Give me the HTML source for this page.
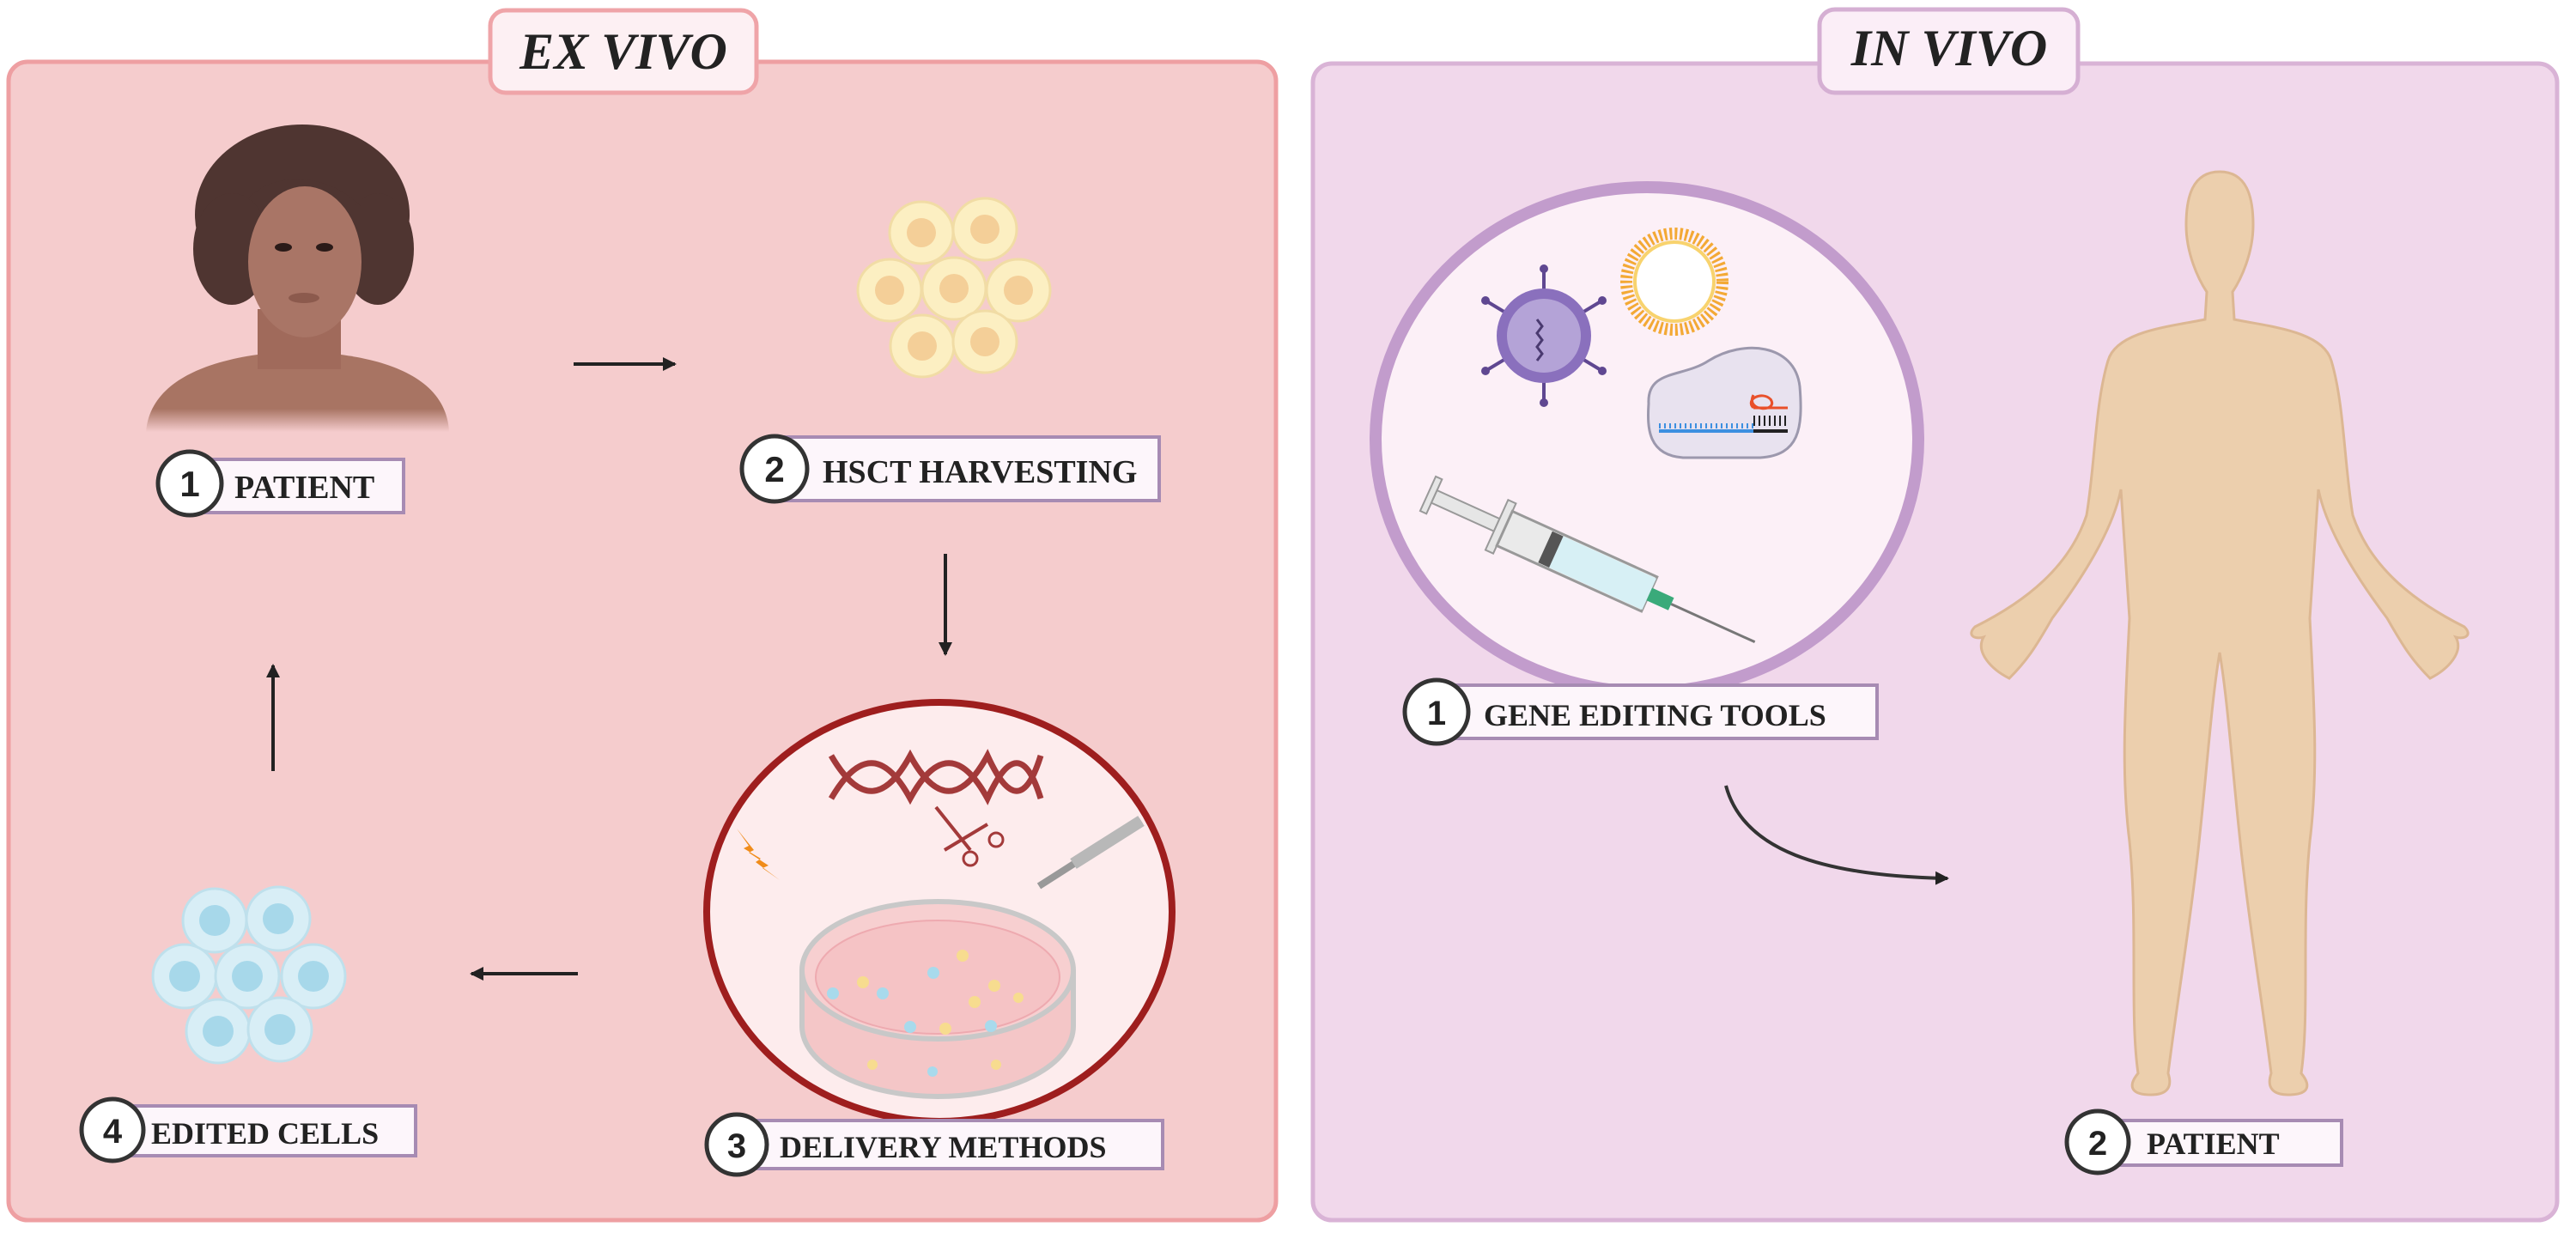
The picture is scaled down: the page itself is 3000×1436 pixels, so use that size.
<!DOCTYPE html>
<html><head><meta charset="utf-8"><style>
html,body{margin:0;padding:0;background:#fff;}
svg{display:block;}
.lab{font-family:"Liberation Serif",serif;font-weight:bold;fill:#222;}
.num{font-family:"Liberation Sans",sans-serif;font-weight:bold;fill:#222;}
</style></head><body>
<svg width="3000" height="1436" viewBox="0 0 3000 1436" xmlns="http://www.w3.org/2000/svg">
<defs>
<linearGradient id="sh" x1="0" y1="0" x2="0" y2="1">
<stop offset="0" stop-color="#a87463"/><stop offset="0.7" stop-color="#a87463"/><stop offset="1" stop-color="#a87463" stop-opacity="0"/>
</linearGradient>
<marker id="ah" markerWidth="4" markerHeight="4" refX="3.5" refY="2" orient="auto" markerUnits="strokeWidth">
<path d="M0,0 L4,2 L0,4 z" fill="#222"/></marker>
</defs>

<rect x="10" y="72" width="1476" height="1349" rx="22" fill="#f5cccd" stroke="#ee9fa2" stroke-width="5"/>
<rect x="571" y="12" width="310" height="96" rx="18" fill="#fdf0f3" stroke="#efa4a8" stroke-width="5"/>
<text x="726" y="80" text-anchor="middle" font-family="Liberation Serif,serif" font-style="italic" font-weight="bold" font-size="60" fill="#222">EX VIVO</text>

<path d="M170,503 C175,440 250,420 300,413 L397,413 C450,420 520,440 523,503 Z" fill="url(#sh)"/>
<rect x="300" y="360" width="97" height="70" fill="#a06a5b"/>
<ellipse cx="352" cy="250" rx="125" ry="105" fill="#4f3531"/>
<ellipse cx="270" cy="290" rx="45" ry="65" fill="#4f3531"/>
<ellipse cx="440" cy="290" rx="42" ry="65" fill="#4f3531"/>
<ellipse cx="355" cy="305" rx="66" ry="88" fill="#a97566"/>
<path d="M290,230 C320,200 380,200 420,240 L420,200 L290,200 Z" fill="#4f3531"/>
<ellipse cx="330" cy="288" rx="10" ry="5" fill="#2a1a18"/><ellipse cx="378" cy="288" rx="10" ry="5" fill="#2a1a18"/>
<ellipse cx="354" cy="347" rx="18" ry="6" fill="#8c5a4d"/>

<g fill="#fcefc2" stroke="#f1dca5" stroke-width="3">
<ellipse cx="1073" cy="271" rx="37" ry="36"/><ellipse cx="1147" cy="267" rx="37" ry="36"/>
<ellipse cx="1036" cy="338" rx="37" ry="36"/><ellipse cx="1111" cy="336" rx="37" ry="36"/><ellipse cx="1186" cy="338" rx="37" ry="36"/>
<ellipse cx="1074" cy="403" rx="37" ry="36"/><ellipse cx="1147" cy="398" rx="37" ry="36"/>
</g>
<g fill="#f4cf98">
<circle cx="1073" cy="271" r="17"/><circle cx="1147" cy="267" r="17"/><circle cx="1036" cy="338" r="17"/><circle cx="1111" cy="336" r="17"/><circle cx="1186" cy="338" r="17"/><circle cx="1074" cy="403" r="17"/><circle cx="1147" cy="398" r="17"/>
</g>

<g fill="#d8eef6" stroke="#bfe0ec" stroke-width="3">
<ellipse cx="250" cy="1072" rx="37" ry="37"/><ellipse cx="324" cy="1070" rx="37" ry="37"/>
<ellipse cx="215" cy="1137" rx="37" ry="37"/><ellipse cx="288" cy="1137" rx="37" ry="37"/><ellipse cx="365" cy="1137" rx="37" ry="37"/>
<ellipse cx="254" cy="1201" rx="37" ry="37"/><ellipse cx="326" cy="1199" rx="37" ry="37"/>
</g>
<g fill="#a7d8ea">
<circle cx="250" cy="1072" r="18"/><circle cx="324" cy="1070" r="18"/><circle cx="215" cy="1137" r="18"/><circle cx="288" cy="1137" r="18"/><circle cx="365" cy="1137" r="18"/><circle cx="254" cy="1201" r="18"/><circle cx="326" cy="1199" r="18"/>
</g>

<g stroke="#222" stroke-width="4" fill="none">
<line x1="668" y1="424" x2="786" y2="424" marker-end="url(#ah)"/>
<line x1="1101" y1="645" x2="1101" y2="762" marker-end="url(#ah)"/>
<line x1="673" y1="1134" x2="549" y2="1134" marker-end="url(#ah)"/>
<line x1="318" y1="898" x2="318" y2="775" marker-end="url(#ah)"/>
</g>

<ellipse cx="1094" cy="1062" rx="271" ry="244" fill="#fdeced" stroke="#9e1e1e" stroke-width="8"/>
<g stroke="#a33a3a" stroke-width="7" fill="none">
<path d="M968,880 C1000,935 1030,935 1060,880 C1090,935 1120,935 1150,880 C1175,935 1195,935 1212,880"/>
<path d="M968,930 C1000,875 1030,875 1060,930 C1090,875 1120,875 1150,930 C1175,875 1195,875 1212,930"/>
<path d="M1090,940 L1130,990 M1150,960 L1100,990" stroke-width="4"/>
<circle cx="1130" cy="1000" r="8" stroke-width="3"/><circle cx="1160" cy="978" r="8" stroke-width="3"/>
</g>
<path d="M858,965 L878,990 L872,993 L895,1008 L888,1011 L908,1025 L880,1004 L886,1000 L866,988 L872,985 Z" fill="#f08c1a"/>
<line x1="1210" y1="1032" x2="1329" y2="956" stroke="#999" stroke-width="8"/>
<line x1="1250" y1="1006" x2="1329" y2="956" stroke="#b8b8b8" stroke-width="14"/>
<ellipse cx="1092" cy="1195" rx="158" ry="82" fill="#f4c6c7" stroke="#c8c8c8" stroke-width="6"/>
<rect x="934" y="1130" width="316" height="65" fill="#f4c6c7"/>
<line x1="934" y1="1130" x2="934" y2="1195" stroke="#c8c8c8" stroke-width="6"/>
<line x1="1250" y1="1130" x2="1250" y2="1195" stroke="#c8c8c8" stroke-width="6"/>
<ellipse cx="1092" cy="1130" rx="158" ry="80" fill="#f7cfd0" stroke="#c8c8c8" stroke-width="6"/>
<ellipse cx="1092" cy="1138" rx="142" ry="66" fill="#f5c3c5" stroke="#eeaab0" stroke-width="2"/>
<g fill="#a8daec"><circle cx="970" cy="1157" r="7"/><circle cx="1028" cy="1157" r="7"/><circle cx="1087" cy="1133" r="7"/><circle cx="1060" cy="1196" r="7"/><circle cx="1154" cy="1195" r="7"/><circle cx="1086" cy="1248" r="6"/></g>
<g fill="#f7dc8f"><circle cx="1005" cy="1144" r="7"/><circle cx="1121" cy="1113" r="7"/><circle cx="1158" cy="1148" r="7"/><circle cx="1135" cy="1167" r="7"/><circle cx="1101" cy="1198" r="7"/><circle cx="1186" cy="1162" r="6"/><circle cx="1016" cy="1240" r="6"/><circle cx="1160" cy="1240" r="6"/></g>

<g>
<rect x="215" y="535" width="255" height="62" fill="#fdf6fb" stroke="#a78bb3" stroke-width="4"/>
<circle cx="221" cy="563" r="37" fill="#fff" stroke="#333" stroke-width="5"/>
<text x="221" y="578" text-anchor="middle" class="num" font-size="42">1</text>
<text x="273" y="580" class="lab" font-size="38">PATIENT</text>

<rect x="905" y="509" width="445" height="74" fill="#fdf6fb" stroke="#a78bb3" stroke-width="4"/>
<circle cx="902" cy="546" r="38" fill="#fff" stroke="#333" stroke-width="5"/>
<text x="902" y="561" text-anchor="middle" class="num" font-size="42">2</text>
<text x="958" y="562" class="lab" font-size="38">HSCT HARVESTING</text>

<rect x="860" y="1305" width="494" height="56" fill="#fdf6fb" stroke="#a78bb3" stroke-width="4"/>
<circle cx="858" cy="1333" r="35" fill="#fff" stroke="#333" stroke-width="5"/>
<text x="858" y="1348" text-anchor="middle" class="num" font-size="40">3</text>
<text x="908" y="1348" class="lab" font-size="36">DELIVERY METHODS</text>

<rect x="130" y="1288" width="354" height="58" fill="#fdf6fb" stroke="#a78bb3" stroke-width="4"/>
<circle cx="131" cy="1316" r="36" fill="#fff" stroke="#333" stroke-width="5"/>
<text x="131" y="1331" text-anchor="middle" class="num" font-size="40">4</text>
<text x="176" y="1332" class="lab" font-size="36">EDITED CELLS</text>
</g>

<rect x="1529" y="74" width="1449" height="1347" rx="22" fill="#f1d8eb" stroke="#d9b3d6" stroke-width="5"/>
<rect x="2119" y="11" width="301" height="97" rx="18" fill="#fbeef7" stroke="#d5afd3" stroke-width="5"/>
<text x="2270" y="76" text-anchor="middle" font-family="Liberation Serif,serif" font-style="italic" font-weight="bold" font-size="60" fill="#222">IN VIVO</text>

<ellipse cx="1918" cy="512" rx="316" ry="294" fill="#fcf0f7" stroke="#c29ccc" stroke-width="14"/>
<g stroke="#5f4791" stroke-width="4">
<line x1="1798" y1="313" x2="1798" y2="469"/><line x1="1730" y1="350" x2="1866" y2="432"/><line x1="1866" y1="350" x2="1730" y2="432"/>
</g>
<g fill="#5f4791"><circle cx="1798" cy="313" r="5"/><circle cx="1798" cy="469" r="5"/><circle cx="1730" cy="350" r="5"/><circle cx="1866" cy="432" r="5"/><circle cx="1866" cy="350" r="5"/><circle cx="1730" cy="432" r="5"/></g>
<circle cx="1798" cy="391" r="55" fill="#8a70bd"/>
<circle cx="1798" cy="391" r="43" fill="#b4a3d7"/>
<path d="M1790,420 l6,-8 l-6,-8 l6,-8 l-6,-8 l6,-8 l-6,-8" stroke="#4a3a70" stroke-width="3" fill="none"/>
<circle cx="1950" cy="328" r="56" fill="none" stroke="#f3a935" stroke-width="14" stroke-dasharray="3 3"/>
<circle cx="1950" cy="328" r="46" fill="#fff" stroke="#f8d36e" stroke-width="4"/>
<path d="M1920,470 C1918,430 1960,440 1990,420 C2030,395 2090,400 2096,450 C2100,500 2095,530 2050,533 L1960,533 C1920,530 1918,500 1920,470 Z" fill="#e8e2ef" stroke="#9c98ad" stroke-width="3"/>
<line x1="1932" y1="502" x2="2042" y2="502" stroke="#3c8fe0" stroke-width="4"/>
<line x1="2042" y1="502" x2="2082" y2="502" stroke="#222" stroke-width="4"/>
<path d="M1932,496 h110" stroke="#3c8fe0" stroke-width="6" stroke-dasharray="2 4"/>
<path d="M2042,490 h40" stroke="#222" stroke-width="12" stroke-dasharray="2 4"/>
<path d="M2082,475 h-40 M2042,475 c-10,-10 10,-20 20,-10 c10,15 -30,15 -20,-5" stroke="#e9502a" stroke-width="3" fill="none"/>
<g transform="translate(1663,575) rotate(24.4)">
<rect x="0" y="-22" width="8" height="44" fill="#e6e6e6" stroke="#999" stroke-width="2"/>
<rect x="8" y="-8" width="80" height="16" fill="#e6e6e6" stroke="#999" stroke-width="2"/>
<rect x="88" y="-32" width="10" height="64" fill="#e6e6e6" stroke="#999" stroke-width="2"/>
<rect x="98" y="-22" width="185" height="44" fill="#eaeaea" stroke="#999" stroke-width="3"/>
<rect x="160" y="-20" width="123" height="40" fill="#d7f0f5"/>
<rect x="150" y="-20" width="14" height="40" fill="#555"/>
<rect x="283" y="-8" width="28" height="16" fill="#3aaa7a"/>
<line x1="311" y1="0" x2="418" y2="0" stroke="#777" stroke-width="3"/>
</g>

<g fill="#eccfad" stroke="#dcb793" stroke-width="3">
<path d="M2585,200 C2553,200 2546,230 2546,262 C2546,295 2560,325 2570,340 L2568,372
C2530,380 2465,385 2455,420 C2440,470 2440,540 2430,600 C2410,660 2360,700 2300,730 C2290,740 2300,745 2310,742
C2300,760 2320,780 2340,790 C2360,770 2370,755 2390,720 C2420,680 2460,620 2470,570 L2480,720
C2475,820 2470,900 2480,980 C2490,1080 2480,1180 2490,1250 C2480,1262 2478,1275 2505,1275 C2525,1275 2530,1265 2525,1250
C2535,1170 2550,1080 2560,990 C2570,900 2575,820 2585,760
C2595,820 2600,900 2610,990 C2620,1080 2635,1170 2645,1250 C2640,1265 2645,1275 2665,1275 C2692,1275 2690,1262 2680,1250
C2690,1180 2680,1080 2690,980 C2700,900 2695,820 2690,720 L2700,570
C2710,620 2750,680 2780,720 C2800,755 2810,770 2830,790 C2850,780 2870,760 2860,742 C2870,745 2880,740 2870,730
C2810,700 2760,660 2740,600 C2730,540 2730,470 2715,420 C2705,385 2640,380 2602,372 L2600,340
C2610,325 2624,295 2624,262 C2624,230 2617,200 2585,200 Z"/>
</g>

<path d="M2010,915 C2030,990 2120,1020 2268,1023" stroke="#333" stroke-width="4" fill="none" marker-end="url(#ah)"/>

<rect x="1672" y="798" width="514" height="62" fill="#fdf6fb" stroke="#a78bb3" stroke-width="4"/>
<circle cx="1673" cy="829" r="37" fill="#fff" stroke="#333" stroke-width="5"/>
<text x="1673" y="844" text-anchor="middle" class="num" font-size="40">1</text>
<text x="1728" y="845" class="lab" font-size="36">GENE EDITING TOOLS</text>

<rect x="2444" y="1305" width="283" height="52" fill="#fdf6fb" stroke="#a78bb3" stroke-width="4"/>
<circle cx="2443" cy="1330" r="36" fill="#fff" stroke="#333" stroke-width="5"/>
<text x="2443" y="1345" text-anchor="middle" class="num" font-size="40">2</text>
<text x="2500" y="1344" class="lab" font-size="36">PATIENT</text>
</svg>
</body></html>
